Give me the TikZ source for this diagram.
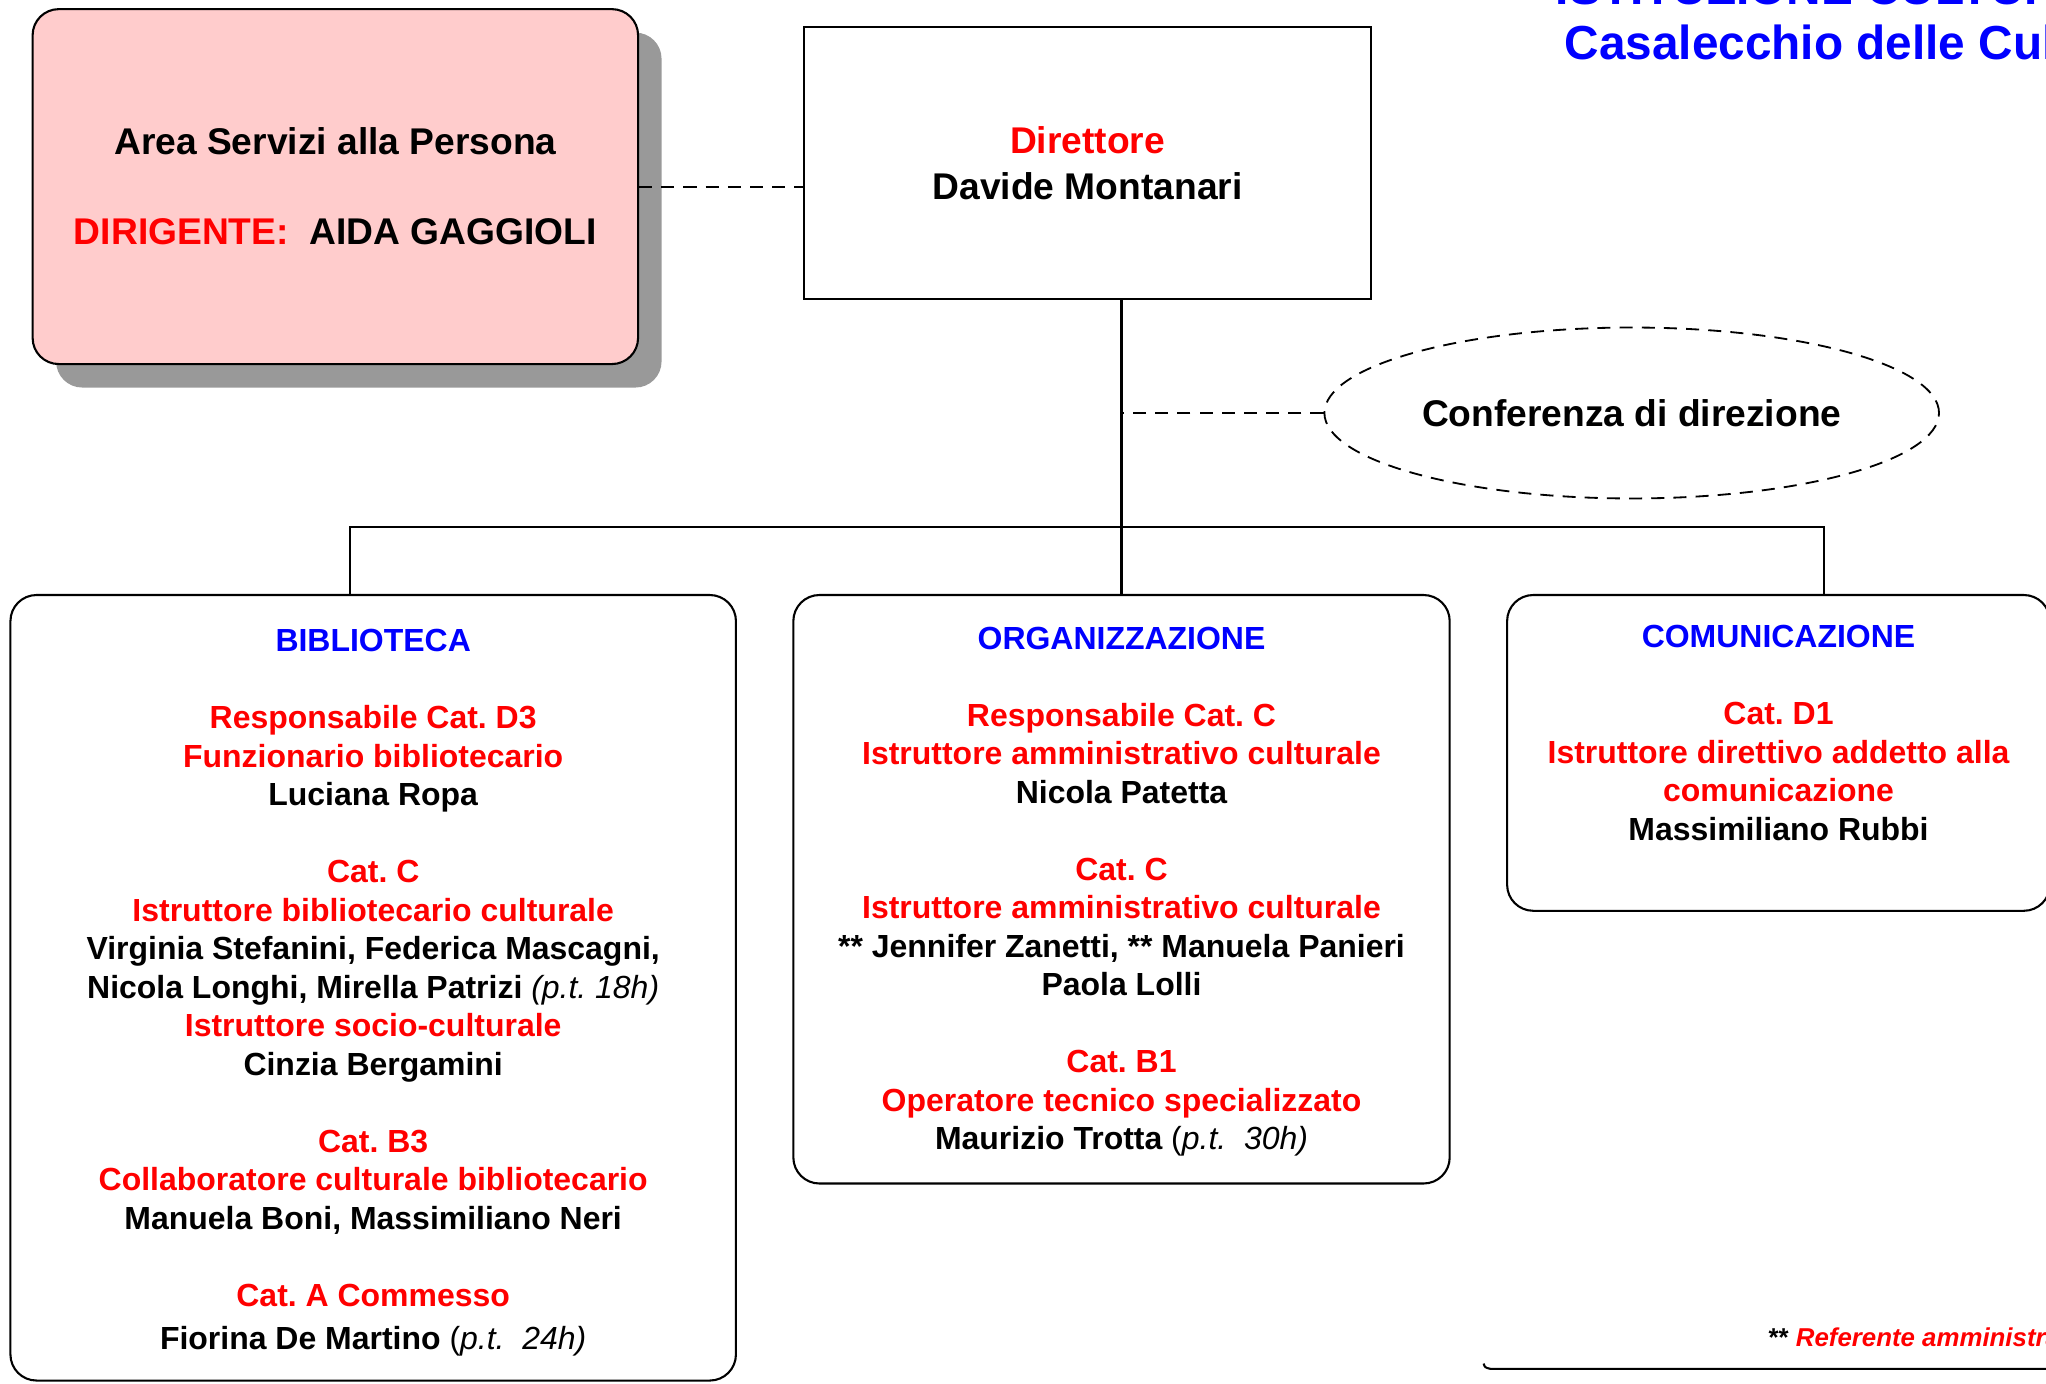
\documentclass[tikz,border=0pt]{standalone}
\usepackage{fontspec}
\setmainfont{Liberation Sans}
\usepackage{tikz}
\usetikzlibrary{shapes.geometric,shadows}
\definecolor{areapink}{HTML}{FFCCCC}
\definecolor{shadegray}{HTML}{999999}
\frenchspacing

\begin{document}
\begin{tikzpicture}[x=0.5pt,y=-0.5pt,
    txt/.style={font=\fontsize{12.25}{14.75}\selectfont\bfseries, align=center, inner sep=0pt},
    bigtxt/.style={font=\fontsize{14.25}{17.5}\selectfont\bfseries, align=center},
    unitbox/.style={draw, line width=0.8pt, rounded corners=10pt, inner sep=0pt},
    link/.style={line width=0.8pt},
    dlink/.style={line width=0.7pt, dash pattern=on 5pt off 3.5pt}]
    \useasboundingbox (0,0) rectangle (1568,1060);
    \clip (0,0) rectangle (1568,1060);

    % title, cut at the top and on the right
    \node[font=\fontsize{18.3}{21}\selectfont\bfseries, text=blue, align=center,
          inner sep=0pt, anchor=south west] (title) at (1192,46)
          {ISTITUZIONE CULTURALE\\Casalecchio delle Culture};

    % upper level
    \node[unitbox, fill=areapink, minimum width=232pt, minimum height=136pt,
          drop shadow={shadow xshift=9pt, shadow yshift=-9pt, fill=shadegray, opacity=1},
          bigtxt] (area) at (257,143)
          {Area Servizi alla Persona\\[17pt]\textcolor{red}{DIRIGENTE:}\ \ AIDA GAGGIOLI};
    \node[draw, line width=0.8pt, minimum width=217.5pt, minimum height=104pt, bigtxt]
          (dir) at (833.5,125) {\textcolor{red}{Direttore}\\Davide Montanari};
    \node[draw, ellipse, dlink, minimum width=235.5pt, minimum height=65.5pt, bigtxt,
          inner sep=0pt] (conf) at (1250.5,316.5) {Conferenza di direzione};

    % units
    \node[unitbox, minimum width=278pt, minimum height=301pt] (bib) at (286,757) {};
    \node[unitbox, minimum width=251.5pt, minimum height=225.5pt] (org) at (859.5,681.5) {};
    \node[unitbox, minimum width=208pt, minimum height=121pt] (com) at (1363,577) {};

    \node[txt, anchor=north] (bibtxt) at (286,482) {\textcolor{blue}{BIBLIOTECA}\\[14.75pt]
        \textcolor{red}{Responsabile Cat. D3}\\
        \textcolor{red}{Funzionario bibliotecario}\\
        Luciana Ropa\\[14.75pt]
        \textcolor{red}{Cat. C}\\
        \textcolor{red}{Istruttore bibliotecario culturale}\\
        Virginia Stefanini, Federica Mascagni,\\
        Nicola Longhi, Mirella Patrizi {\mdseries\itshape (p.t. 18h)}\\
        \textcolor{red}{Istruttore socio-culturale}\\
        Cinzia Bergamini\\[14.75pt]
        \textcolor{red}{Cat. B3}\\
        \textcolor{red}{Collaboratore culturale bibliotecario}\\
        Manuela Boni, Massimiliano Neri\\[14.75pt]
        \textcolor{red}{Cat. A Commesso}\\[1.75pt]
        Fiorina De Martino {\mdseries(\itshape p.t.\ \ 24h)}};
    \node[txt, anchor=north] (orgtxt) at (859.5,480) {\textcolor{blue}{ORGANIZZAZIONE}\\[14.75pt]
        \textcolor{red}{Responsabile Cat. C}\\
        \textcolor{red}{Istruttore amministrativo culturale}\\
        Nicola Patetta\\[14.75pt]
        \textcolor{red}{Cat. C}\\
        \textcolor{red}{Istruttore amministrativo culturale}\\
        ** Jennifer Zanetti, ** Manuela Panieri\\
        Paola Lolli\\[14.75pt]
        \textcolor{red}{Cat. B1}\\
        \textcolor{red}{Operatore tecnico specializzato}\\
        Maurizio Trotta {\mdseries(\itshape p.t.\ \ 30h)}};
    \node[txt, anchor=north] (comtxt) at (1363,479) {\textcolor{blue}{COMUNICAZIONE}\\[14.75pt]
        \textcolor{red}{Cat. D1}\\
        \textcolor{red}{Istruttore direttivo addetto alla}\\
        \textcolor{red}{comunicazione}\\
        Massimiliano Rubbi};

    % links
    \coordinate (hub) at (859.5,404);
    \draw[dlink] (area.east) -- (area.east -| dir.west);
    \draw[link] (dir.south -| org.north) -- (org.north);
    \draw[dlink] (conf.west) -- (conf.west -| org.north);
    \draw[link] ([xshift=-9pt]bib.north) |- (hub) -| ([xshift=17.5pt]com.north);

    % note at the bottom right
    \node[font=\fontsize{9.9}{12}\selectfont\bfseries, anchor=base west, inner sep=0pt]
          (note) at (1355,1032) {** \textcolor{red}{\itshape Referente amministrativo}};
    \draw[line width=0.8pt] (1137,1045) .. controls (1138,1048) .. (1142,1049) -- (1580,1049);
\end{tikzpicture}
\end{document}
